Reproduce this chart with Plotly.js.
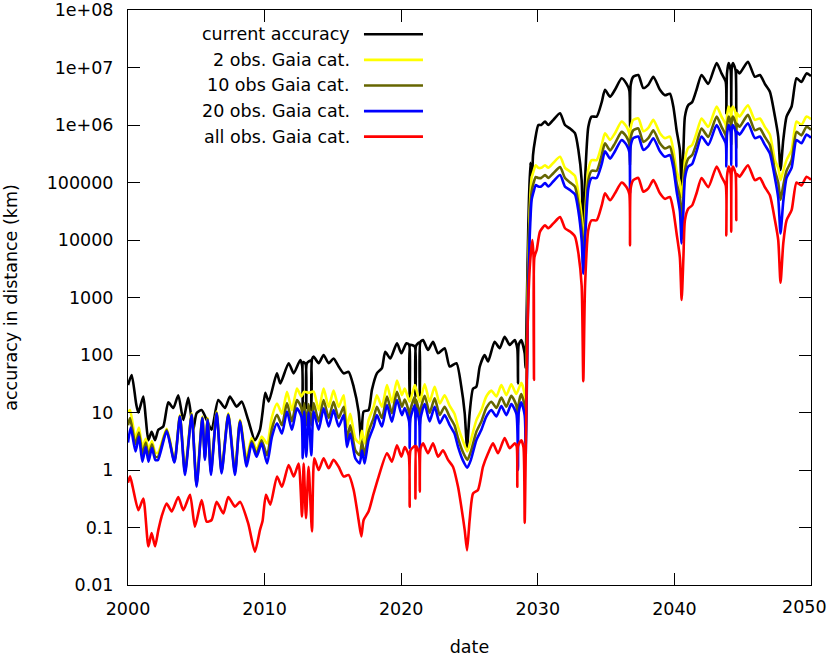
<!DOCTYPE html>
<html>
<head>
<meta charset="utf-8">
<script src="https://cdn.plot.ly/plotly-3.0.1.min.js"></script>
<style>body{margin:0;background:#fff;}</style>
</head>
<body>
<div id="myDiv_1" style="width:830px;height:657px;"></div>
<script>
// values, [year, accuracy in km]
let current = [[2000.0,30],[2000.27,45],[2000.6,14],[2000.76,10],[2001.12,19],[2001.3,8],[2001.49,3.3],[2001.73,4.6],[2001.98,3.3],[2002.22,5],[2002.58,5.7],[2002.95,15],[2003.32,12],[2003.68,20],[2004.05,7.4],[2004.41,18],[2004.78,5],[2005.02,9.7],[2005.39,11],[2005.76,7.4],[2006.12,5],[2006.61,16.5],[2007.1,12],[2007.46,19],[2007.95,12.6],[2008.32,15.5],[2008.8,7.4],[2009.29,3.3],[2009.66,5],[2009.85,10],[2010.05,22],[2010.3,15.5],[2010.9,48],[2011.15,32],[2011.76,72],[2012.13,48],[2012.61,82],[2012.75,65],[2012.79,12],[2012.84,75],[2013.0,70],[2013.05,12],[2013.1,72],[2013.38,80],[2013.42,11],[2013.47,85],[2013.59,94],[2013.96,72],[2014.32,100],[2014.69,72],[2015.05,87],[2015.42,63],[2015.79,48],[2016.15,51],[2016.52,28],[2016.88,10.4],[2017.08,3.1],[2017.25,10.4],[2017.61,11],[2017.86,25],[2018.22,48],[2018.59,59],[2018.83,114],[2019.2,87],[2019.69,160],[2020.01,107],[2020.38,160],[2020.58,150],[2020.62,19],[2020.67,150],[2020.99,140],[2021.04,19],[2021.09,145],[2021.32,165],[2021.36,20],[2021.41,170],[2021.6,182],[2021.96,122],[2022.33,170],[2022.7,107],[2023.18,131],[2023.55,63],[2024.04,72],[2024.4,28],[2024.65,9.7],[2024.82,2.5],[2025.01,9.7],[2025.26,26],[2025.5,28],[2025.75,63],[2026.11,100],[2026.36,77],[2026.84,170],[2027.21,131],[2027.57,208],[2027.94,150],[2028.31,182],[2028.5,130],[2028.55,32],[2028.6,150],[2028.79,182],[2029.04,107],[2029.1,60],[2029.2,800],[2029.3,1.5e4],[2029.45,2.2e5],[2029.58,1.3e5],[2029.65,3e5],[2029.8,5.5e5],[2030.04,1.0e6],[2030.25,1.0e6],[2030.53,1.15e6],[2030.77,1.0e6],[2031.14,1.23e6],[2031.63,1.6e6],[2031.99,1.0e6],[2032.36,8.7e5],[2032.72,7.2e5],[2032.97,3.7e5],[2033.21,1.1e5],[2033.33,8e3],[2033.46,1.1e5],[2033.7,9.3e5],[2033.94,1.4e6],[2034.31,1.4e6],[2034.68,2.5e6],[2034.92,4.1e6],[2035.29,3.1e6],[2035.65,4.1e6],[2036.14,6.5e6],[2036.5,5.2e6],[2036.7,4e6],[2036.75,9.3e5],[2036.8,5e6],[2036.99,6.9e6],[2037.36,7.4e6],[2037.72,4.4e6],[2038.09,5e6],[2038.46,6.9e6],[2038.94,4.1e6],[2039.31,3.3e6],[2039.67,3.5e6],[2039.92,2.1e6],[2040.16,8.1e5],[2040.4,3.7e5],[2040.53,7.9e4],[2040.66,3.7e5],[2040.77,1.4e6],[2041.01,2.2e6],[2041.3,2.5e6],[2041.62,4.1e6],[2041.99,7.4e6],[2042.48,5.2e6],[2043.09,1.2e7],[2043.45,7.9e6],[2043.76,5.6e6],[2043.8,1.6e6],[2043.85,7.9e6],[2043.97,1.2e7],[2044.12,8.9e6],[2044.16,1.8e6],[2044.2,1e7],[2044.29,1.2e7],[2044.48,8.9e6],[2044.53,1.6e6],[2044.58,8.9e6],[2044.77,7.9e6],[2045.38,1.26e7],[2045.89,6.9e6],[2046.26,7.4e6],[2046.62,5.2e6],[2046.99,3.8e6],[2047.36,1.4e6],[2047.6,6.3e5],[2047.77,1.66e5],[2047.97,5.5e5],[2048.21,1.4e6],[2048.58,2.1e6],[2048.94,6.5e6],[2049.3,5.6e6],[2049.67,7.9e6],[2050.0,7.1e6]];

let gaia2 = [[2000.0,10],[2000.15,11],[2000.55,3.5],[2000.8,5.5],[2001.05,2.5],[2001.3,3.5],[2001.5,2.2],[2001.75,3.2],[2002.0,2.0],[2002.2,2.0],[2002.83,5.2],[2003.4,1.5],[2003.8,9],[2004.17,1.0],[2004.66,9.7],[2005.02,0.6],[2005.44,8.5],[2005.63,1.8],[2005.83,8],[2006.07,1.0],[2006.49,10.4],[2006.85,1.0],[2007.34,9.7],[2007.83,1.0],[2008.2,7.5],[2008.68,1.6],[2009.05,3.6],[2009.41,2.2],[2009.78,3.8],[2010.18,2.9],[2010.54,8.4],[2010.91,14.3],[2011.27,9.5],[2011.64,23],[2012.0,11],[2012.37,26],[2012.69,19],[2012.9,23],[2013.22,22],[2013.59,23],[2013.96,11],[2014.32,26],[2014.69,12.5],[2015.05,24],[2015.42,12.5],[2015.79,20],[2016.03,5.5],[2016.27,9.5],[2016.64,3.5],[2016.96,2.9],[2017.13,4.8],[2017.32,2.9],[2017.61,7.3],[2017.98,12.5],[2018.22,20],[2018.59,12.5],[2018.96,30],[2019.32,15],[2019.69,36],[2020.05,20],[2020.26,26],[2020.62,15.4],[2021.0,30],[2021.36,15.4],[2021.72,31],[2022.08,15.4],[2022.45,28],[2022.82,14.3],[2023.18,20],[2023.55,13],[2023.9,9.5],[2024.17,5.5],[2024.5,3.3],[2024.84,2.1],[2025.1,3.3],[2025.5,7.3],[2025.87,11],[2026.23,19],[2026.6,24],[2026.97,19],[2027.33,30],[2027.7,20],[2028.06,31],[2028.43,21],[2028.79,33],[2029.04,20],[2029.12,5],[2029.25,1e3],[2029.4,3e4],[2029.55,1.2e5],[2029.7,1.6e5],[2029.85,2e5],[2030.04,1.8e5],[2030.25,1.8e5],[2030.53,2.0e5],[2030.77,1.8e5],[2031.14,2.2e5],[2031.63,2.8e5],[2031.99,1.8e5],[2032.36,1.55e5],[2032.72,1.3e5],[2032.97,6.6e4],[2033.21,2.5e4],[2033.33,5e3],[2033.46,2.5e4],[2033.7,1.66e5],[2033.94,2.45e5],[2034.31,2.45e5],[2034.68,4.5e5],[2034.92,7.2e5],[2035.29,5.5e5],[2035.65,7.2e5],[2036.14,1.15e6],[2036.5,9.3e5],[2036.7,7.1e5],[2036.75,4e5],[2036.8,8.9e5],[2036.99,1.23e6],[2037.36,1.3e6],[2037.72,7.8e5],[2038.09,8.9e5],[2038.46,1.23e6],[2038.94,7.2e5],[2039.31,5.9e5],[2039.67,6.3e5],[2039.92,3.7e5],[2040.16,1.6e5],[2040.4,1e5],[2040.53,5.6e4],[2040.66,1e5],[2040.77,2.45e5],[2041.01,4e5],[2041.3,4.5e5],[2041.62,7.2e5],[2041.99,1.3e6],[2042.48,9.3e5],[2043.09,2.1e6],[2043.45,1.4e6],[2043.76,1e6],[2043.8,7.9e5],[2043.85,1.4e6],[2043.97,2.1e6],[2044.12,1.6e6],[2044.16,8.9e5],[2044.2,1.8e6],[2044.29,2.1e6],[2044.48,1.6e6],[2044.53,7.9e5],[2044.58,1.6e6],[2044.77,1.4e6],[2045.38,2.2e6],[2045.89,1.23e6],[2046.26,1.3e6],[2046.62,9.3e5],[2046.99,6.8e5],[2047.36,2.45e5],[2047.6,1.8e5],[2047.77,1.1e5],[2047.97,1.6e5],[2048.21,2.45e5],[2048.58,3.7e5],[2048.94,1.15e6],[2049.3,1e6],[2049.67,1.4e6],[2050.0,1.26e6]];

let gaia10 = [[2000.0,6],[2000.15,8],[2000.55,2.8],[2000.8,4.5],[2001.05,1.9],[2001.3,3.0],[2001.5,1.7],[2001.75,2.8],[2002.0,1.7],[2002.2,1.7],[2002.83,5.0],[2003.4,1.4],[2003.8,8.7],[2004.17,0.9],[2004.66,9.3],[2005.02,0.55],[2005.44,8.2],[2005.63,1.6],[2005.83,7.7],[2006.07,0.9],[2006.49,10],[2006.85,0.93],[2007.34,9.3],[2007.83,0.9],[2008.2,7.2],[2008.68,1.35],[2009.05,3.2],[2009.41,1.9],[2009.78,3.3],[2010.18,1.8],[2010.54,5.3],[2010.91,9.1],[2011.27,6],[2011.64,14.6],[2012.0,7],[2012.37,16.5],[2012.69,12],[2012.79,6],[2012.9,14.6],[2013.05,6],[2013.22,14],[2013.42,6],[2013.59,14.6],[2013.96,7],[2014.32,16.5],[2014.69,8],[2015.05,15.4],[2015.42,8],[2015.79,12.6],[2016.03,3.5],[2016.27,6],[2016.64,2.2],[2016.96,1.8],[2017.13,3.1],[2017.32,1.8],[2017.61,4.6],[2017.98,8],[2018.22,12.6],[2018.59,8],[2018.96,19],[2019.32,9.7],[2019.69,23],[2020.05,12.6],[2020.26,16.8],[2020.58,9.8],[2020.62,6],[2020.68,11.2],[2021.0,19],[2021.04,8],[2021.09,16.8],[2021.32,9.8],[2021.36,6],[2021.42,11.2],[2021.72,19.6],[2022.08,9.8],[2022.45,17.6],[2022.82,9.1],[2023.18,12.6],[2023.55,8.4],[2023.9,6],[2024.17,3.5],[2024.5,2.1],[2024.84,1.5],[2025.1,2.1],[2025.5,4.6],[2025.87,7],[2026.23,12],[2026.6,15.4],[2026.97,12],[2027.33,18.2],[2027.7,12.6],[2028.06,19.6],[2028.43,13.3],[2028.55,6],[2028.6,14],[2028.79,21],[2029.04,13],[2029.12,3],[2029.25,600],[2029.4,1.8e4],[2029.55,7e4],[2029.7,1e5],[2029.85,1.25e5],[2030.04,1.2e5],[2030.25,1.2e5],[2030.53,1.35e5],[2030.77,1.2e5],[2031.14,1.45e5],[2031.63,1.85e5],[2031.99,1.2e5],[2032.36,1.0e5],[2032.72,8.5e4],[2032.97,4.4e4],[2033.21,1.6e4],[2033.33,3.5e3],[2033.46,1.6e4],[2033.7,1.1e5],[2033.94,1.6e5],[2034.31,1.6e5],[2034.68,3e5],[2034.92,4.8e5],[2035.29,3.6e5],[2035.65,4.8e5],[2036.14,7.6e5],[2036.5,6.2e5],[2036.7,4.7e5],[2036.75,2e5],[2036.8,5.9e5],[2036.99,8.1e5],[2037.36,8.7e5],[2037.72,5.1e5],[2038.09,5.9e5],[2038.46,8.1e5],[2038.94,4.8e5],[2039.31,3.9e5],[2039.67,4.2e5],[2039.92,2.45e5],[2040.16,1e5],[2040.4,5.6e4],[2040.53,2.2e4],[2040.66,5.6e4],[2040.77,1.6e5],[2041.01,2.6e5],[2041.3,3e5],[2041.62,4.8e5],[2041.99,8.7e5],[2042.48,6.2e5],[2043.09,1.4e6],[2043.45,9.3e5],[2043.76,6.6e5],[2043.8,4e5],[2043.85,9.3e5],[2043.97,1.4e6],[2044.12,1.05e6],[2044.16,4.5e5],[2044.2,1.2e6],[2044.29,1.4e6],[2044.48,1.05e6],[2044.53,4e5],[2044.58,1.05e6],[2044.77,9.3e5],[2045.38,1.5e6],[2045.89,8.1e5],[2046.26,8.7e5],[2046.62,6.2e5],[2046.99,4.5e5],[2047.36,1.6e5],[2047.6,1e5],[2047.77,5e4],[2047.97,8.9e4],[2048.21,1.6e5],[2048.58,2.45e5],[2048.94,7.6e5],[2049.3,6.6e5],[2049.67,9.3e5],[2050.0,8.3e5]];

let gaia20 = [[2000.0,3],[2000.2,5.5],[2000.55,2.1],[2000.8,3.8],[2001.05,1.4],[2001.3,2.5],[2001.5,1.4],[2001.75,2.4],[2002.0,1.5],[2002.2,1.5],[2002.83,4.7],[2003.4,1.35],[2003.8,8.5],[2004.17,0.82],[2004.66,9],[2005.02,0.51],[2005.44,8],[2005.63,1.5],[2005.83,7.4],[2006.07,0.82],[2006.49,9.7],[2006.85,0.87],[2007.34,9],[2007.83,0.82],[2008.2,6.9],[2008.68,1.15],[2009.05,2.9],[2009.41,1.7],[2009.78,2.9],[2010.18,1.3],[2010.54,3.8],[2010.91,6.5],[2011.27,4.3],[2011.64,10.4],[2012.0,5],[2012.37,11.8],[2012.69,8.5],[2012.79,1.6],[2012.9,10.4],[2013.05,1.7],[2013.22,10],[2013.42,1.8],[2013.59,10.4],[2013.96,5],[2014.32,11.8],[2014.69,5.7],[2015.05,11],[2015.42,5.7],[2015.79,9],[2016.03,2.5],[2016.27,4.3],[2016.64,1.6],[2016.96,1.3],[2017.13,2.2],[2017.32,1.3],[2017.61,3.3],[2017.98,5.7],[2018.22,9],[2018.59,5.7],[2018.96,13.5],[2019.32,6.9],[2019.69,16.5],[2020.05,9],[2020.26,12],[2020.58,7],[2020.62,2.4],[2020.68,8],[2021.0,13.5],[2021.04,2.6],[2021.09,12],[2021.32,7],[2021.36,2.3],[2021.42,8],[2021.72,14],[2022.08,7],[2022.45,12.6],[2022.82,6.5],[2023.18,9],[2023.55,6],[2023.9,4.3],[2024.17,2.5],[2024.5,1.5],[2024.84,1.1],[2025.1,1.5],[2025.5,3.3],[2025.87,5],[2026.23,8.5],[2026.6,11],[2026.97,8.5],[2027.33,13],[2027.7,9],[2028.06,14],[2028.43,9.5],[2028.55,1.0],[2028.6,10],[2028.79,15],[2029.04,9],[2029.12,2],[2029.27,500],[2029.4,1e4],[2029.55,5e4],[2029.7,7e4],[2029.85,9e4],[2030.04,8.5e4],[2030.25,8.5e4],[2030.53,9.8e4],[2030.77,8.5e4],[2031.14,1.05e5],[2031.63,1.35e5],[2031.99,8.5e4],[2032.36,7.4e4],[2032.72,6.2e4],[2032.97,3.2e4],[2033.21,1e4],[2033.33,2.6e3],[2033.46,1e4],[2033.7,7.9e4],[2033.94,1.2e5],[2034.31,1.2e5],[2034.68,2.1e5],[2034.92,3.5e5],[2035.29,2.6e5],[2035.65,3.5e5],[2036.14,5.5e5],[2036.5,4.5e5],[2036.7,3.4e5],[2036.75,6.5e4],[2036.8,4.3e5],[2036.99,5.9e5],[2037.36,6.3e5],[2037.72,3.7e5],[2038.09,4.3e5],[2038.46,5.9e5],[2038.94,3.5e5],[2039.31,2.8e5],[2039.67,3e5],[2039.92,1.8e5],[2040.16,7.1e4],[2040.4,3.2e4],[2040.53,8.7e3],[2040.66,3.2e4],[2040.77,1.2e5],[2041.01,1.9e5],[2041.3,2.1e5],[2041.62,3.5e5],[2041.99,6.3e5],[2042.48,4.5e5],[2043.09,1e6],[2043.45,6.8e5],[2043.76,4.8e5],[2043.8,1.9e5],[2043.85,6.8e5],[2043.97,1e6],[2044.12,7.6e5],[2044.16,2e5],[2044.2,8.5e5],[2044.29,1e6],[2044.48,7.6e5],[2044.53,1.9e5],[2044.58,7.6e5],[2044.77,6.8e5],[2045.38,1.07e6],[2045.89,5.9e5],[2046.26,6.3e5],[2046.62,4.5e5],[2046.99,3.2e5],[2047.36,1.2e5],[2047.6,5.4e4],[2047.77,1.3e4],[2047.97,4.7e4],[2048.21,1.2e5],[2048.58,1.8e5],[2048.94,5.5e5],[2049.3,4.8e5],[2049.67,6.8e5],[2050.0,6e5]];

let gaiaAll = [[2000.0,0.6],[2000.15,0.78],[2000.35,0.5],[2000.76,0.2],[2001.12,0.32],[2001.49,0.047],[2001.73,0.08],[2001.98,0.047],[2002.22,0.09],[2002.46,0.155],[2002.83,0.26],[2003.2,0.19],[2003.68,0.34],[2004.05,0.2],[2004.54,0.37],[2004.9,0.103],[2005.39,0.3],[2005.76,0.126],[2006.12,0.135],[2006.49,0.28],[2006.98,0.176],[2007.34,0.34],[2007.83,0.23],[2008.2,0.28],[2008.8,0.118],[2009.29,0.038],[2009.66,0.09],[2009.85,0.13],[2010.1,0.37],[2010.42,0.25],[2010.91,0.77],[2011.27,0.51],[2011.76,1.22],[2012.13,0.77],[2012.49,1.3],[2012.74,0.155],[2012.86,1.3],[2013.03,0.145],[2013.22,1.14],[2013.47,0.085],[2013.64,1.6],[2013.96,1.0],[2014.32,1.6],[2014.69,1.07],[2015.05,1.5],[2015.42,1.14],[2015.79,0.77],[2016.15,0.82],[2016.52,0.45],[2016.88,0.135],[2017.08,0.07],[2017.25,0.135],[2017.61,0.19],[2017.98,0.39],[2018.35,0.77],[2018.96,1.95],[2019.32,1.4],[2019.69,2.7],[2020.01,1.7],[2020.26,2.5],[2020.55,1.8],[2020.62,0.23],[2020.68,2.2],[2020.88,2.5],[2021.0,2.6],[2021.04,0.32],[2021.09,2.6],[2021.3,2.0],[2021.36,0.42],[2021.42,2.4],[2021.6,2.9],[2021.96,1.95],[2022.33,2.9],[2022.7,1.7],[2023.06,2.2],[2023.43,1.5],[2023.79,1.14],[2024.16,0.51],[2024.4,0.23],[2024.65,0.09],[2024.82,0.04],[2025.01,0.135],[2025.26,0.39],[2025.62,0.45],[2025.99,1.14],[2026.36,1.95],[2026.72,2.9],[2027.09,1.95],[2027.57,3.6],[2027.94,2.4],[2028.31,2.9],[2028.45,2.6],[2028.5,0.51],[2028.55,2.6],[2028.79,3.3],[2028.95,2.5],[2029.04,0.12],[2029.1,1],[2029.25,300],[2029.43,3.9e3],[2029.6,1e4],[2029.69,5e3],[2029.72,37],[2029.75,5e3],[2029.92,6.7e3],[2030.16,1.4e4],[2030.53,1.8e4],[2030.77,1.6e4],[2031.14,1.95e4],[2031.63,2.5e4],[2031.99,1.6e4],[2032.36,1.4e4],[2032.72,1.15e4],[2032.97,5.9e3],[2033.21,1.6e3],[2033.33,35],[2033.46,1.6e3],[2033.7,1.5e4],[2033.94,2.2e4],[2034.31,2.2e4],[2034.68,4e4],[2034.92,6.5e4],[2035.29,4.9e4],[2035.65,6.5e4],[2036.14,1.0e5],[2036.5,8.3e4],[2036.7,6.3e4],[2036.75,8.1e3],[2036.8,7.9e4],[2036.99,1.1e5],[2037.36,1.2e5],[2037.72,6.9e4],[2038.09,7.9e4],[2038.46,1.1e5],[2038.94,6.5e4],[2039.31,5.2e4],[2039.67,5.6e4],[2039.92,3.3e4],[2040.16,1.3e4],[2040.4,5e3],[2040.53,910],[2040.66,5e3],[2040.77,2.2e4],[2041.01,3.5e4],[2041.3,4e4],[2041.62,6.5e4],[2041.99,1.2e5],[2042.48,8.3e4],[2043.09,1.9e5],[2043.45,1.26e5],[2043.76,8.9e4],[2043.8,1.2e4],[2043.85,1.26e5],[2043.97,1.9e5],[2044.12,1.4e5],[2044.16,1.4e4],[2044.2,1.6e5],[2044.29,1.9e5],[2044.48,1.4e5],[2044.53,2.2e4],[2044.58,1.4e5],[2044.77,1.26e5],[2045.38,2e5],[2045.89,1.1e5],[2046.26,1.2e5],[2046.62,8.3e4],[2046.99,6e4],[2047.36,2.2e4],[2047.6,1e4],[2047.77,1.8e3],[2047.97,8.7e3],[2048.21,2.2e4],[2048.58,3.3e4],[2048.94,1e5],[2049.3,8.9e4],[2049.67,1.26e5],[2050.0,1.12e5]];

let seriesNames = ['current accuracy', '2 obs. Gaia cat.', '10 obs Gaia cat.', '20 obs. Gaia cat.', 'all obs. Gaia cat.'];
let seriesColors = ['#000000', '#ffff00', '#666600', '#0000ff', '#ff0000'];
let xTicks = [2000, 2010, 2020, 2030, 2040, 2050];
let yTicks = [0.01, 0.1, 1, 10, 100, 1000, 10000, 100000, 1e6, 1e7, 1e8];
let yTickText = ['0.01', '0.1', '1', '10', '100', '1000', '10000', '100000', '1e+06', '1e+07', '1e+08'];

function drawChart(){
    let allSeries = [current, gaia2, gaia10, gaia20, gaiaAll];
    let font = {family: 'DejaVu Sans, sans-serif', size: 17.5, color: '#000'};

    let traces = [];
    let annotations = [];
    let shapes = [];

    for (let i = 0; i < allSeries.length; i++){
        traces.push({
            mode: 'lines',
            type: 'scatter',
            x: allSeries[i].map(p => p[0]),
            y: allSeries[i].map(p => p[1]),
            name: seriesNames[i],
            line: {color: seriesColors[i], width: 2.6, shape: 'spline', smoothing: 0.6},
            showlegend: false
        });

        // gnuplot style key: text right aligned, line sample on the right
        let rowY = 0.9577 - i*0.0445;
        annotations.push({
            xref: 'paper', yref: 'paper',
            x: 0.328, y: rowY,
            xanchor: 'right', yanchor: 'middle',
            text: seriesNames[i],
            showarrow: false,
            font: font
        });
        shapes.push({
            type: 'line', xref: 'paper', yref: 'paper',
            x0: 0.3455, x1: 0.4319, y0: rowY, y1: rowY,
            line: {color: seriesColors[i], width: 2.6}
        });
    }

    // last x label would run past the page edge, so it is pinned to the right side
    let xTickText = xTicks.map(String);
    xTickText[xTickText.length - 1] = '';
    annotations.push({
        xref: 'paper', yref: 'paper',
        x: 1.0264, y: -0.0383,
        xanchor: 'right', yanchor: 'middle',
        text: String(xTicks[xTicks.length - 1]),
        showarrow: false,
        font: font
    });

    let layout = {
        width: 830,
        height: 657,
        margin: {l: 128, r: 19, t: 10, b: 72},
        paper_bgcolor: '#fff',
        plot_bgcolor: '#fff',
        font: font,
        showlegend: false,
        xaxis: {
            range: [2000, 2050],
            tickvals: xTicks,
            ticktext: xTickText,
            ticks: 'inside',
            ticklen: 12,
            tickcolor: '#000',
            showline: true,
            linecolor: '#000',
            linewidth: 1,
            mirror: 'ticks',
            showgrid: false,
            zeroline: false,
            ticklabelstandoff: 8,
            title: {text: 'date', font: font, standoff: 26}
        },
        yaxis: {
            type: 'log',
            range: [-2, 8],
            tickvals: yTicks,
            ticktext: yTickText,
            ticks: 'inside',
            ticklen: 12,
            tickcolor: '#000',
            showline: true,
            linecolor: '#000',
            linewidth: 1,
            mirror: 'ticks',
            showgrid: false,
            zeroline: false,
            ticklabelstandoff: 10,
            title: {text: 'accuracy in distance (km)', font: font, standoff: 24}
        },
        annotations: annotations,
        shapes: shapes
    };

    Plotly.newPlot('myDiv_1', traces, layout, {displayModeBar: false, staticPlot: true});
}

drawChart();
</script>
</body>
</html>
